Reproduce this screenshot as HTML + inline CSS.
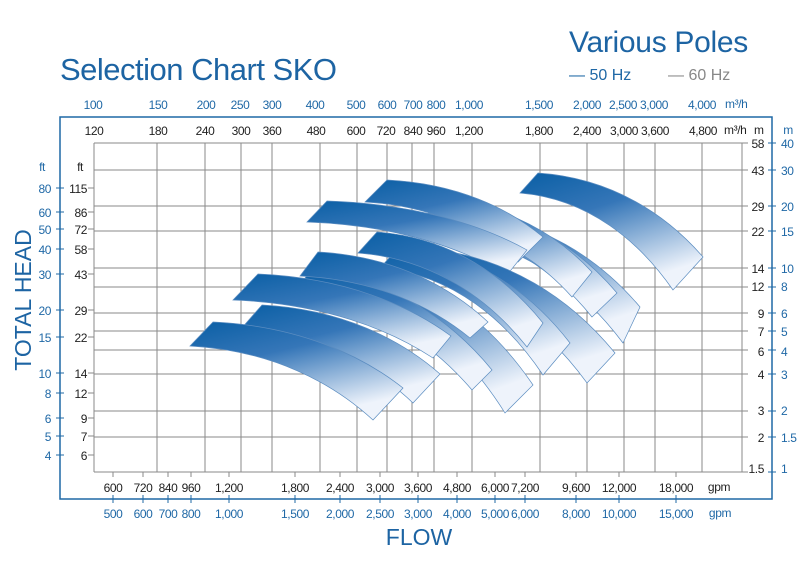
<!DOCTYPE html>
<html><head><meta charset="utf-8"><style>
html,body{margin:0;padding:0;background:#fff;}
svg{display:block;font-family:"Liberation Sans",sans-serif;}
.b{fill:#1f68a6;font-size:12px;letter-spacing:-0.4px;}
.k{fill:#222;font-size:12px;letter-spacing:-0.4px;}
</style></head><body>
<svg id="s" width="800" height="576" viewBox="0 0 800 576" xmlns="http://www.w3.org/2000/svg">
<defs>
<linearGradient id="g" x1="0" y1="0" x2="0.5" y2="1">
<stop offset="0" stop-color="#0a5fa5"/><stop offset="0.4" stop-color="#3576b8"/><stop offset="1" stop-color="#eef3fb"/>
</linearGradient>
</defs>
<text x="60" y="80" fill="#1d64a3" font-size="31" letter-spacing="-0.5">Selection Chart SKO</text>
<text x="569" y="52" fill="#1d64a3" font-size="30" letter-spacing="-0.3">Various Poles</text>
<text x="569" y="80" fill="#1f68a6" font-size="16">— 50 Hz</text>
<text x="668" y="80" fill="#888" font-size="16">— 60 Hz</text>
<rect x="60" y="117" width="712" height="382" fill="none" stroke="#1f68a6" stroke-width="1.5"/>
<g id="grid" stroke="#8a8a8a" stroke-width="1"></g>
<g id="bands"></g>
<g id="txt"></g>
<text transform="translate(31,300) rotate(-90)" text-anchor="middle" fill="#1d64a3" font-size="23">TOTAL  HEAD</text>
<text x="419" y="545" text-anchor="middle" fill="#1d64a3" font-size="23">FLOW</text>
</svg>
<script>
var NS="http://www.w3.org/2000/svg";
function el(p,t,a,tx){var e=document.createElementNS(NS,t);for(var k in a)e.setAttribute(k,a[k]);if(tx!=null)e.textContent=tx;document.getElementById(p).appendChild(e);return e;}
var vx=[94,157,205,241,272,320,357,387,412,434,472,540,587,624,655,702,742];
var hy=[143,170,206,231,268,287,313,331,350,374,411,437,472];
vx.forEach(function(x){el('grid','line',{x1:x,y1:143,x2:x,y2:472});});
hy.forEach(function(y){el('grid','line',{x1:94,y1:y,x2:742,y2:y});});
[188,212,229,249,274,310,337,373,393,418,436,455].forEach(function(y){el('grid','line',{x1:56,y1:y,x2:64,y2:y,stroke:'#1f68a6'});el('grid','line',{x1:88,y1:y,x2:94,y2:y});});
hy.forEach(function(y){el('grid','line',{x1:742,y1:y,x2:748,y2:y});el('grid','line',{x1:768,y1:y,x2:776,y2:y,stroke:'#1f68a6'});});
var B=[
[520,193,538,173,703,257,673,290],
[440,235,460,213,640,307,623,343],
[430,228,450,206,617,293,592,317],
[420,222,440,200,592,272,572,297],
[365,202,387,180,543,237,518,262],
[307,222,327,201,527,250,507,275],
[400,270,420,248,615,353,587,383],
[380,268,400,246,570,343,543,375],
[358,253,377,232,543,323,527,347],
[330,290,350,266,533,385,505,413],
[290,296,310,272,492,370,472,390],
[300,276,318,252,488,322,470,338],
[233,300,258,274,451,336,433,358],
[240,330,262,305,440,374,413,403],
[190,346,213,322,403,388,373,420]];
function ctrl(ax,ay,bx,by){var dx=bx-ax,dy=by-ay;return [ax+0.45*dx,ay+0.06*dy,bx-0.22*dx,by-0.5*dy];}
B.forEach(function(b){
 var c=ctrl(b[2],b[3],b[4],b[5]),d=ctrl(b[0],b[1],b[6],b[7]);
 var p="M"+b[0]+","+b[1]+" L"+b[2]+","+b[3]+" C"+c[0]+","+c[1]+" "+c[2]+","+c[3]+" "+b[4]+","+b[5]+
 " L"+b[6]+","+b[7]+" C"+d[2]+","+d[3]+" "+d[0]+","+d[1]+" "+b[0]+","+b[1]+"Z";
 el('bands','path',{d:p,fill:'url(#g)',stroke:'#5a8cc0','stroke-width':0.7});
});
function T(x,y,s,c,anc,fs){var a={x:x,y:y,'class':c,'text-anchor':anc||'middle'};if(fs)a['font-size']=fs;el('txt','text',a,s);}
var tb=[[93,'100'],[158,'150'],[206,'200'],[240,'250'],[272,'300'],[315,'400'],[356,'500'],[387,'600'],[413,'700'],[436,'800'],[469,'1,000'],[539,'1,500'],[587,'2,000'],[623,'2,500'],[654,'3,000'],[702,'4,000']];
tb.forEach(function(t){T(t[0],109,t[1],'b');});
T(725,108,'m³/h','b','start',11);
var tk=[[94,'120'],[158,'180'],[205,'240'],[241,'300'],[272,'360'],[316,'480'],[356,'600'],[386,'720'],[413,'840'],[436,'960'],[469,'1,200'],[539,'1,800'],[587,'2,400'],[624,'3,000'],[655,'3,600'],[703,'4,800']];
tk.forEach(function(t){T(t[0],135,t[1],'k');});
T(724,134,'m³/h','k','start',11);T(754,134,'m','k','start');T(788,134,'m','b');
var lf=[[188,'80','115'],[212,'60','86'],[229,'50','72'],[249,'40','58'],[274,'30','43'],[310,'20','29'],[337,'15','22'],[373,'10','14'],[393,'8','12'],[418,'6','9'],[436,'5','7'],[455,'4','6']];
lf.forEach(function(t){T(51,t[0]+5,t[1],'b','end');T(87,t[0]+5,t[2],'k','end');});
T(42,171,'ft','b');T(80,171,'ft','k');
var rt=[[143,'58','40'],[170,'43','30'],[206,'29','20'],[231,'22','15'],[268,'14','10'],[286,'12','8'],[313,'9','6'],[331,'7','5'],[351,'6','4'],[374,'4','3'],[410,'3','2'],[437,'2','1.5'],[468,'1.5','1']];
rt.forEach(function(t){T(764,t[0]+5,t[1],'k','end');T(781,t[0]+5,t[2],'b','start');});
var bk=[[113,'600','500'],[143,'720','600'],[168,'840','700'],[191,'960','800'],[229,'1,200','1,000'],[295,'1,800','1,500'],[340,'2,400','2,000'],[380,'3,000','2,500'],[418,'3,600','3,000'],[457,'4,800','4,000'],[495,'6,000','5,000'],[525,'7,200','6,000'],[576,'9,600','8,000'],[619,'12,000','10,000'],[676,'18,000','15,000']];
bk.forEach(function(t){T(t[0],492,t[1],'k');T(t[0],518,t[2],'b');el('grid','line',{x1:t[0],y1:495,x2:t[0],y2:503,stroke:'#1f68a6'});el('grid','line',{x1:t[0],y1:472,x2:t[0],y2:477});});
T(719,491,'gpm','k');T(720,517,'gpm','b');
</script>
</body></html>
